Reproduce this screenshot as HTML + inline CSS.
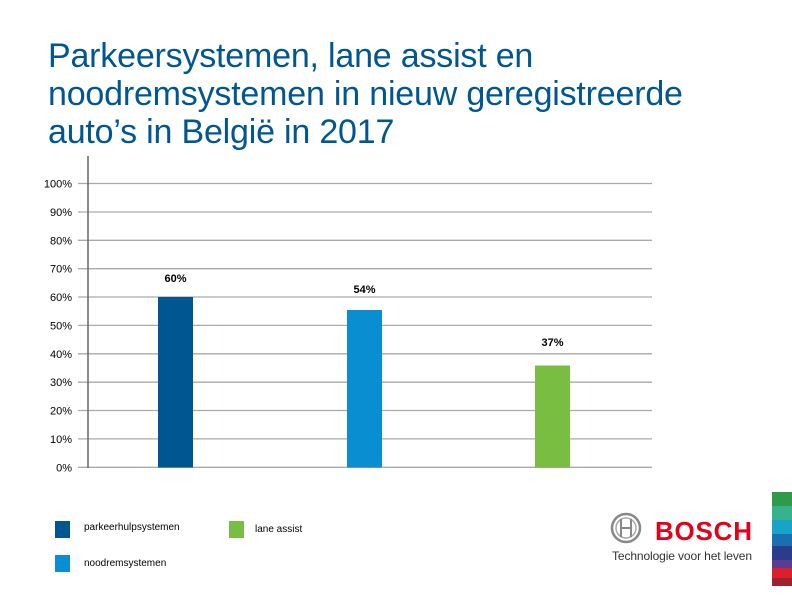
<!DOCTYPE html>
<html><head><meta charset="utf-8"><style>
body{margin:0;width:792px;height:612px;background:#fff;overflow:hidden;font-family:"Liberation Sans",sans-serif;position:relative}
.t{position:absolute;left:48px;top:37px;font-size:34px;line-height:38px;color:#005691;letter-spacing:-0.2px}
</style></head><body>
<div class="t">Parkeersystemen, lane assist en<br>noodremsystemen in nieuw geregistreerde<br>auto’s in België in 2017</div>
<svg width="792" height="612" style="position:absolute;left:0;top:0">
<g stroke="#aaa" stroke-width="1.3">
<line x1="78" x2="652" y1="183.5" y2="183.5"/><line x1="78" x2="652" y1="212" y2="212"/>
<line x1="78" x2="652" y1="240.3" y2="240.3"/><line x1="78" x2="652" y1="268.7" y2="268.7"/>
<line x1="78" x2="652" y1="297" y2="297"/><line x1="78" x2="652" y1="325.4" y2="325.4"/>
<line x1="78" x2="652" y1="353.8" y2="353.8"/><line x1="78" x2="652" y1="382.2" y2="382.2"/>
<line x1="78" x2="652" y1="410.5" y2="410.5"/><line x1="78" x2="652" y1="438.9" y2="438.9"/>
<line x1="78" x2="652" y1="467.3" y2="467.3"/>
</g>
<line x1="88" x2="88" y1="156" y2="468" stroke="#666" stroke-width="1.5"/>
<g font-size="11" fill="#000" text-anchor="end">
<text x="72" y="187.5">100%</text><text x="72" y="216">90%</text><text x="72" y="244.3">80%</text>
<text x="72" y="272.7">70%</text><text x="72" y="301">60%</text><text x="72" y="329.4">50%</text>
<text x="72" y="357.8">40%</text><text x="72" y="386.2">30%</text><text x="72" y="414.5">20%</text>
<text x="72" y="442.9">10%</text><text x="72" y="471.3">0%</text>
</g>
<rect x="158" y="297" width="35" height="170.5" fill="#005691"/>
<rect x="347" y="310" width="35" height="157.5" fill="#0a8ed2"/>
<rect x="535" y="365.5" width="35" height="102" fill="#78be43"/>
<g font-size="11" font-weight="bold" text-anchor="middle">
<text x="175.5" y="282">60%</text><text x="364.5" y="293">54%</text><text x="552.5" y="346">37%</text>
</g>
<rect x="55" y="521" width="15" height="17" fill="#005691"/>
<rect x="55" y="555" width="15" height="17" fill="#0a8ed2"/>
<rect x="229" y="521" width="15" height="17" fill="#78be43"/>
<g font-size="10" fill="#000">
<text x="84" y="530">parkeerhulpsystemen</text><text x="84" y="566">noodremsystemen</text><text x="255" y="532">lane assist</text>
</g>
<circle cx="626" cy="528" r="14" fill="none" stroke="#888" stroke-width="2.5"/>
<circle cx="626" cy="528" r="10" fill="none" stroke="#aaa" stroke-width="1.5"/>
<line x1="621" x2="621" y1="519" y2="537" stroke="#888" stroke-width="2"/>
<line x1="631" x2="631" y1="519" y2="537" stroke="#888" stroke-width="2"/>
<line x1="621" x2="631" y1="528" y2="528" stroke="#888" stroke-width="2"/>
<text x="655" y="540" font-size="26" font-weight="bold" fill="#e2001a" textLength="97">BOSCH</text>
<text x="612" y="560" font-size="12" fill="#333" textLength="140">Technologie voor het leven</text>
<rect x="772" y="492" width="20" height="14" fill="#2e9a4a"/>
<rect x="772" y="506" width="20" height="14" fill="#36b28f"/>
<rect x="772" y="520" width="20" height="14" fill="#17a4c9"/>
<rect x="772" y="534" width="20" height="12" fill="#1a6fb0"/>
<rect x="772" y="546" width="20" height="14" fill="#2b3c8a"/>
<rect x="772" y="560" width="20" height="8" fill="#5a3d8f"/>
<rect x="772" y="568" width="20" height="10" fill="#d9202c"/>
<rect x="772" y="578" width="20" height="8" fill="#a02030"/>
</svg>
</body></html>
